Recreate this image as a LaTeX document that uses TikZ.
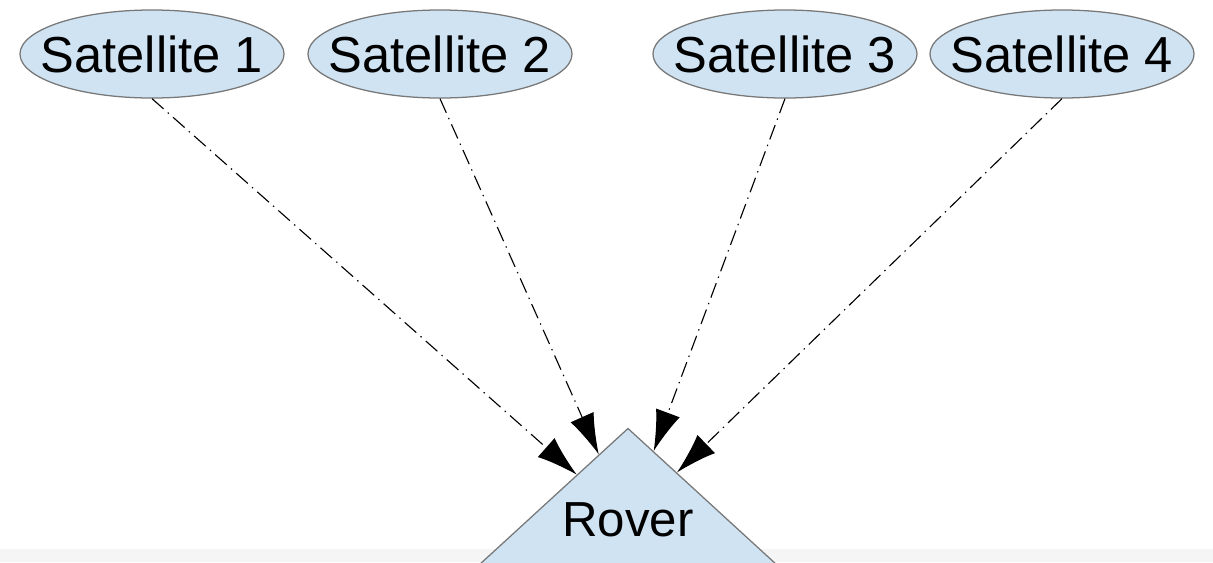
\documentclass[tikz,border=0pt]{standalone}
\usepackage{fontspec}
\setmainfont{Liberation Sans}
\usepackage{tikz}
\usetikzlibrary{positioning,calc}
\usetikzlibrary{arrows.meta,shapes.geometric}
\definecolor{skyfill}{RGB}{207,227,243}
\definecolor{rimgray}{RGB}{120,120,120}
\tikzstyle{sat} = [ellipse,draw=rimgray,fill=skyfill,line width=0.9pt,minimum width=6.6cm,minimum height=2.2cm,inner xsep=-16pt,inner ysep=0pt,font=\fontsize{36}{40}\selectfont]
\tikzstyle{rover} = [isosceles triangle,shape border rotate=90,isosceles triangle apex angle=95,draw=rimgray,fill=skyfill,line width=0.9pt,inner xsep=-25pt,inner ysep=33pt,font=\fontsize{35}{40}\selectfont]
\tikzstyle{link} = [-{Latex[length=29pt,width=18pt]},black,line width=0.8pt,dash pattern=on 11pt off 4pt on 1pt off 4pt]

\begin{document}
\begin{tikzpicture}[x=0.025cm,y=-0.025cm]
    \useasboundingbox (0,0) rectangle (1213,562);
    \clip (0,0) rectangle (1213,562);
    \fill[black!4] (0,549) rectangle (1213,562);
    \node[sat] (sat1) at (152,54) {Satellite 1};
    \node[sat] (sat2) at (440,54) {Satellite 2};
    \node[sat] (sat3) at (785,54) {Satellite 3};
    \node[sat] (sat4) at (1062,54) {Satellite 4};
    \node[rover] (rover) at (628,520) {Rover};
    % signals down to the rover
    \path[link] (sat1.south) edge (rover);
    \path[link] (sat2.south) edge (rover);
    \path[link] (sat3.south) edge (rover);
    \path[link] (sat4.south) edge (rover);
\end{tikzpicture}
\end{document}
